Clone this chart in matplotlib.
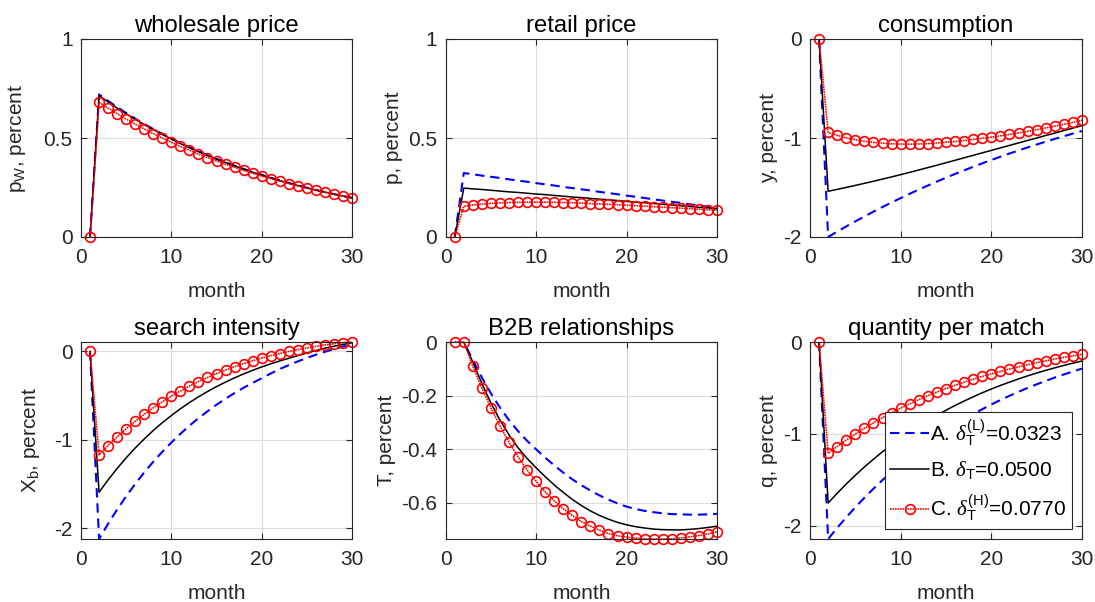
import matplotlib
matplotlib.use("Agg")
import matplotlib.pyplot as plt

plt.rcParams["font.family"] = ["Liberation Sans", "DejaVu Sans"]
plt.rcParams["axes.unicode_minus"] = False
plt.rcParams["mathtext.fontset"] = "custom"
plt.rcParams["mathtext.rm"] = "Liberation Sans"
plt.rcParams["mathtext.it"] = "Liberation Serif:italic"
plt.rcParams["mathtext.bf"] = "Liberation Sans:bold"

months = list(range(1, 31))

series_labels = [r"A. $\delta_\mathrm{T}^\mathrm{(L)}$=0.0323",
                 r"B. $\delta_\mathrm{T}$=0.0500",
                 r"C. $\delta_\mathrm{T}^\mathrm{(H)}$=0.0770"]

titles = ["wholesale price", "retail price", "consumption",
          "search intensity", "B2B relationships", "quantity per match"]
ylabels = [r"p$_\mathrm{W}$, percent", "p, percent", "y, percent",
           r"X$_\mathrm{b}$, percent", "T, percent", "q, percent"]
xlabel = "month"

wholesale_A = [0, 0.720, 0.687, 0.656, 0.626, 0.598, 0.571, 0.545, 0.521, 0.497, 0.475, 0.453, 0.433, 0.413, 0.395,
               0.377, 0.360, 0.344, 0.328, 0.314, 0.299, 0.286, 0.273, 0.261, 0.249, 0.238, 0.227, 0.217, 0.207, 0.198]
wholesale_B = [0, 0.714, 0.682, 0.651, 0.622, 0.594, 0.568, 0.542, 0.518, 0.495, 0.472, 0.451, 0.431, 0.412, 0.393,
               0.376, 0.359, 0.343, 0.327, 0.313, 0.299, 0.285, 0.272, 0.260, 0.248, 0.237, 0.227, 0.216, 0.207, 0.197]
wholesale_C = [0, 0.680, 0.651, 0.623, 0.596, 0.570, 0.546, 0.522, 0.500, 0.478, 0.458, 0.438, 0.419, 0.401, 0.384,
               0.367, 0.352, 0.336, 0.322, 0.308, 0.295, 0.282, 0.270, 0.258, 0.247, 0.237, 0.226, 0.217, 0.207, 0.198]

retail_A = [0, 0.323, 0.317, 0.310, 0.304, 0.298, 0.291, 0.285, 0.279, 0.272, 0.266, 0.260, 0.253, 0.247, 0.241,
            0.235, 0.228, 0.222, 0.216, 0.209, 0.203, 0.197, 0.190, 0.184, 0.178, 0.172, 0.165, 0.159, 0.153, 0.146]
retail_B = [0, 0.247, 0.243, 0.240, 0.236, 0.232, 0.228, 0.225, 0.221, 0.217, 0.214, 0.210, 0.206, 0.202, 0.199,
            0.195, 0.191, 0.188, 0.184, 0.180, 0.176, 0.173, 0.169, 0.165, 0.162, 0.158, 0.154, 0.150, 0.147, 0.143]
retail_C = [0, 0.155, 0.162, 0.166, 0.170, 0.172, 0.174, 0.175, 0.176, 0.176, 0.176, 0.175, 0.174, 0.173, 0.171,
            0.169, 0.167, 0.165, 0.163, 0.161, 0.158, 0.156, 0.153, 0.151, 0.148, 0.146, 0.143, 0.140, 0.138, 0.135]

cons_A = [0, -2.000, -1.946, -1.893, -1.842, -1.793, -1.744, -1.697, -1.651, -1.607, -1.563, -1.521, -1.480, -1.440,
          -1.401, -1.363, -1.327, -1.291, -1.256, -1.222, -1.189, -1.157, -1.126, -1.095, -1.066, -1.037, -1.009,
          -0.982, -0.955, -0.929]
cons_B = [0, -1.538, -1.519, -1.499, -1.479, -1.458, -1.437, -1.415, -1.393, -1.370, -1.347, -1.323, -1.299, -1.275,
          -1.250, -1.225, -1.200, -1.175, -1.150, -1.125, -1.100, -1.075, -1.050, -1.025, -1.000, -0.975, -0.950,
          -0.925, -0.900, -0.875]
cons_C = [0, -0.944, -0.972, -0.998, -1.018, -1.033, -1.044, -1.052, -1.058, -1.061, -1.062, -1.060, -1.056, -1.050,
          -1.043, -1.035, -1.026, -1.015, -1.003, -0.991, -0.978, -0.964, -0.949, -0.933, -0.916, -0.898, -0.880,
          -0.862, -0.843, -0.820]

search_A = [0, -2.120, -1.948, -1.787, -1.637, -1.498, -1.368, -1.247, -1.135, -1.030, -0.932, -0.840, -0.756,
            -0.677, -0.603, -0.535, -0.471, -0.411, -0.356, -0.304, -0.250, -0.200, -0.155, -0.113, -0.074, -0.038,
            -0.005, 0.026, 0.055, 0.082]
search_B = [0, -1.592, -1.452, -1.323, -1.203, -1.092, -0.990, -0.894, -0.806, -0.725, -0.649, -0.579, -0.514,
            -0.454, -0.398, -0.347, -0.299, -0.255, -0.214, -0.176, -0.141, -0.108, -0.078, -0.048, -0.018, 0.010,
            0.036, 0.058, 0.078, 0.097]
search_C = [0, -1.170, -1.064, -0.966, -0.875, -0.790, -0.711, -0.638, -0.570, -0.507, -0.448, -0.393, -0.342,
            -0.295, -0.251, -0.211, -0.173, -0.138, -0.106, -0.076, -0.049, -0.024, -0.001, 0.020, 0.039, 0.057,
            0.073, 0.087, 0.097, 0.106]

b2b_A = [0, 0, -0.068, -0.133, -0.192, -0.245, -0.292, -0.333, -0.369, -0.401, -0.432, -0.461, -0.488, -0.513,
         -0.535, -0.555, -0.573, -0.589, -0.603, -0.615, -0.624, -0.631, -0.636, -0.640, -0.643, -0.644, -0.645,
         -0.645, -0.644, -0.642]
b2b_B = [0, 0, -0.075, -0.155, -0.228, -0.292, -0.347, -0.395, -0.435, -0.470, -0.503, -0.534, -0.562, -0.588,
         -0.611, -0.631, -0.648, -0.662, -0.674, -0.683, -0.690, -0.695, -0.699, -0.701, -0.702, -0.702, -0.700,
         -0.697, -0.693, -0.688]
b2b_C = [0, 0, -0.091, -0.172, -0.246, -0.314, -0.374, -0.429, -0.478, -0.521, -0.560, -0.593, -0.623, -0.648,
         -0.671, -0.688, -0.703, -0.716, -0.724, -0.729, -0.733, -0.735, -0.736, -0.736, -0.735, -0.732, -0.728,
         -0.723, -0.717, -0.709]

qty_A = [0, -2.145, -2.024, -1.909, -1.800, -1.696, -1.597, -1.503, -1.414, -1.329, -1.248, -1.172, -1.099, -1.030,
         -0.964, -0.901, -0.842, -0.785, -0.732, -0.680, -0.632, -0.586, -0.542, -0.500, -0.461, -0.423, -0.387,
         -0.353, -0.321, -0.290]
qty_B = [0, -1.753, -1.647, -1.546, -1.451, -1.361, -1.276, -1.195, -1.119, -1.047, -0.979, -0.915, -0.854, -0.797,
         -0.743, -0.691, -0.643, -0.597, -0.553, -0.512, -0.473, -0.437, -0.402, -0.369, -0.338, -0.309, -0.281,
         -0.255, -0.230, -0.207]
qty_C = [0, -1.212, -1.138, -1.068, -1.001, -0.939, -0.879, -0.823, -0.770, -0.720, -0.673, -0.628, -0.585, -0.545,
         -0.507, -0.471, -0.438, -0.405, -0.375, -0.347, -0.320, -0.294, -0.270, -0.247, -0.225, -0.205, -0.185,
         -0.167, -0.150, -0.134]

panel_series = [
    (wholesale_A, wholesale_B, wholesale_C),
    (retail_A, retail_B, retail_C),
    (cons_A, cons_B, cons_C),
    (search_A, search_B, search_C),
    (b2b_A, b2b_B, b2b_C),
    (qty_A, qty_B, qty_C),
]
ylims = [(0, 1), (0, 1), (-2.0, 0), (-2.12, 0.106), (-0.736, 0), (-2.145, 0)]
yticks = [[0, 0.5, 1], [0, 0.5, 1], [-2, -1, 0], [-2, -1, 0], [-0.6, -0.4, -0.2, 0], [-2, -1, 0]]
yticklabels = [["0", "0.5", "1"], ["0", "0.5", "1"], ["-2", "-1", "0"], ["-2", "-1", "0"],
               ["-0.6", "-0.4", "-0.2", "0"], ["-2", "-1", "0"]]
xticks = [0, 10, 20, 30]

W, H = 1095, 602
fig = plt.figure(figsize=(W / 100, H / 100), dpi=100)
lefts = [81, 445.7, 810]
widths = [271, 271.3, 272]
tops = [39, 342]
heights = [198, 197]
ylabel_pads = [11, 4, 4, 9, 4, 4]

dark = "#262626"
for i in range(6):
    r, c = divmod(i, 3)
    x0 = lefts[c] / W
    y0 = (H - tops[r] - heights[r]) / H
    ax = fig.add_axes([x0, y0, widths[c] / W, heights[r] / H])
    A, B, C = panel_series[i]
    ax.plot(months, A, color="#0000ff", linestyle=(0, (4.5, 2.8)), lw=1.5, label=series_labels[0])
    ax.plot(months, B, color="black", linestyle="-", lw=1.1, label=series_labels[1])
    ax.plot(months, C, color="#ff0000", linestyle=(0, (1.0, 0.5)), lw=1.2, marker="o", markersize=7,
            markerfacecolor="none", markeredgecolor="#ff0000", markeredgewidth=1.2,
            label=series_labels[2], clip_on=False)
    ax.set_xlim(0, 30)
    ax.set_ylim(*ylims[i])
    ax.set_xticks(xticks)
    ax.set_xticklabels([str(t) for t in xticks])
    ax.set_yticks(yticks[i])
    ax.set_yticklabels(yticklabels[i])
    ax.grid(True, color="#dcdcdc", lw=0.8)
    ax.set_axisbelow(True)
    ax.tick_params(direction="in", length=4, width=0.8, top=True, right=True,
                   labelsize=15, colors=dark)
    ax.tick_params(axis="x", pad=8)
    ax.tick_params(axis="y", pad=6)
    for s in ax.spines.values():
        s.set_color(dark)
        s.set_linewidth(0.8)
    ax.set_title(titles[i], fontsize=17.2, color="black", pad=5)
    ax.set_xlabel(xlabel, fontsize=15, color=dark, labelpad=11)
    ax.set_ylabel(ylabels[i], fontsize=15, color=dark, labelpad=ylabel_pads[i])
    if i == 5:
        leg = ax.legend(loc="lower right", fontsize=15, handlelength=1.9, handletextpad=0.05,
                        labelspacing=0.55, borderpad=0.25, borderaxespad=0.5, frameon=True,
                        fancybox=False, edgecolor=dark, framealpha=1)
        leg.get_frame().set_linewidth(0.8)

fig.savefig("out.png", dpi=100)
